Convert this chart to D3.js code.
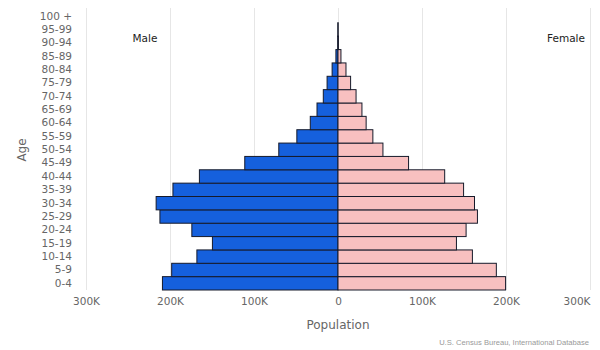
<!DOCTYPE html>
<html>
<head>
<meta charset="utf-8">
<script src="https://cdn.jsdelivr.net/npm/d3@7"></script>
<style>
  html, body { margin: 0; padding: 0; background: #fff; }
  svg { display: block; }
</style>
</head>
<body>
<svg id="chart" width="600" height="350"></svg>
<script>
// Age groups, bottom to top
const ageGroups = ["0-4","5-9","10-14","15-19","20-24","25-29","30-34","35-39","40-44","45-49",
  "50-54","55-59","60-64","65-69","70-74","75-79","80-84","85-89","90-94","95-99","100 +"];
const male = [209000,198000,168000,149500,174000,212000,216500,196500,165000,111000,
  70500,49000,33000,25000,17500,13000,7000,2500,300,100,0];
const female = [199500,188500,160000,141000,152500,166000,162500,149500,127000,84000,
  53500,41500,33500,28500,21500,15000,9500,3500,500,100,0];
const xTickValues = [-300000,-200000,-100000,0,100000,200000,300000];

const svg = d3.select("#chart");
const x = d3.scaleLinear().domain([-300000, 300000]).range([86, 590]);
const y = d3.scaleBand().domain(ageGroups).range([290, 9.5]).padding(0);

const font = "'DejaVu Sans', sans-serif";

// gridlines
svg.append("g").selectAll("line").data(xTickValues).join("line")
  .attr("x1", d => Math.round(x(d)) + 0.5).attr("x2", d => Math.round(x(d)) + 0.5)
  .attr("y1", 8).attr("y2", 290)
  .attr("stroke", "#e6e6e6").attr("stroke-width", 1);

const rows = ageGroups.map((a, i) => ({age: a, m: male[i], f: female[i]}));

// male bars
svg.append("g").selectAll("rect").data(rows).join("rect")
  .attr("x", d => x(-d.m)).attr("width", d => x(0) - x(-d.m))
  .attr("y", d => y(d.age)).attr("height", y.bandwidth())
  .attr("fill", "#1560dd").attr("stroke", "#161a2a").attr("stroke-width", 1);

// female bars
svg.append("g").selectAll("rect").data(rows).join("rect")
  .attr("x", x(0)).attr("width", d => x(d.f) - x(0))
  .attr("y", d => y(d.age)).attr("height", y.bandwidth())
  .attr("fill", "#f8c0c0").attr("stroke", "#161a2a").attr("stroke-width", 1);

// y axis labels
const yAxis = d3.axisLeft(y).tickSize(0).tickPadding(0);
const gy = svg.append("g").attr("transform", "translate(72,0)").call(yAxis);
gy.select(".domain").remove();
gy.selectAll("text").attr("font-family", font).attr("font-size", 10.5).attr("fill", "#666");

// x axis labels
const xAxis = d3.axisBottom(x).tickValues(xTickValues).tickSize(0).tickPadding(0)
  .tickFormat(d => d === 0 ? "0" : (Math.abs(d) / 1000) + "K");
const gx = svg.append("g").attr("transform", "translate(0,298)").call(xAxis);
gx.select(".domain").remove();
gx.selectAll("text").attr("font-family", font).attr("font-size", 10.5).attr("fill", "#666");
// keep the last label inside the chart (right-justified to its gridline)
gx.selectAll(".tick").filter(d => d === 300000).select("text").attr("text-anchor", "end");

// axis titles
svg.append("text").attr("x", x(0)).attr("y", 329).attr("text-anchor", "middle")
  .attr("font-family", font).attr("font-size", 12).attr("fill", "#666").text("Population");
svg.append("text").attr("transform", "translate(26,150) rotate(-90)").attr("text-anchor", "middle")
  .attr("font-family", font).attr("font-size", 12).attr("fill", "#666").text("Age");

// series labels
svg.append("text").attr("x", 145).attr("y", 42).attr("text-anchor", "middle")
  .attr("font-family", font).attr("font-size", 10.5).attr("fill", "#222").text("Male");
svg.append("text").attr("x", 585).attr("y", 42).attr("text-anchor", "end")
  .attr("font-family", font).attr("font-size", 10.5).attr("fill", "#222").text("Female");

// source
svg.append("text").attr("x", 589).attr("y", 345).attr("text-anchor", "end")
  .attr("font-family", "'Liberation Sans', sans-serif").attr("font-size", 7.6).attr("fill", "#999")
  .text("U.S. Census Bureau, International Database");
</script>
</body>
</html>
